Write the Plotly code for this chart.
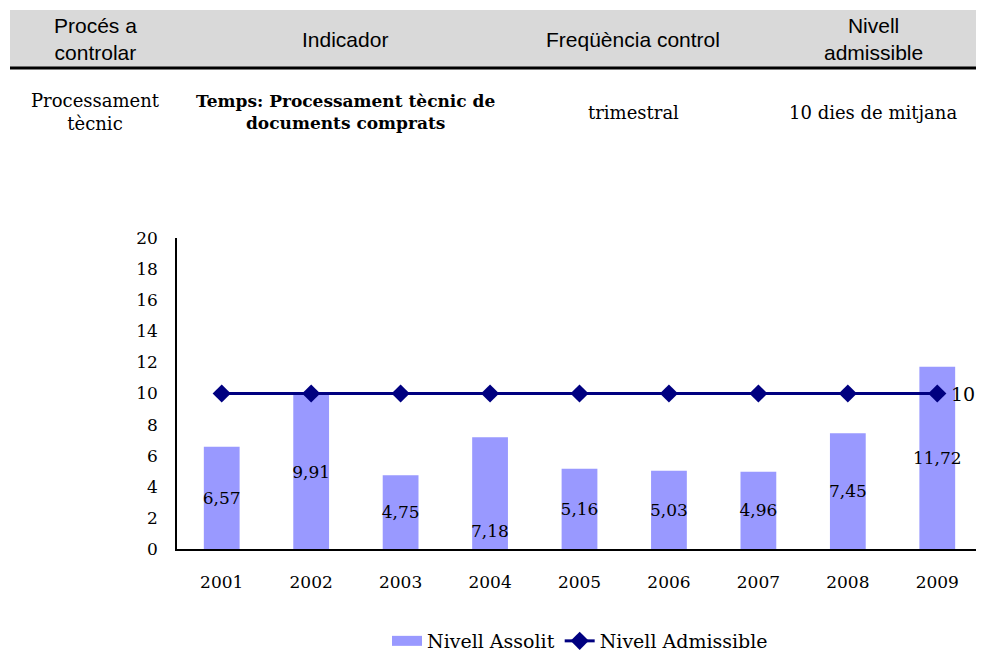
import plotly.graph_objects as go

years = ["2001", "2002", "2003", "2004", "2005", "2006", "2007", "2008", "2009"]
assolit = [6.57, 9.91, 4.75, 7.18, 5.16, 5.03, 4.96, 7.45, 11.72]
admissible = [10, 10, 10, 10, 10, 10, 10, 10, 10]
assolit_labels = ["6,57", "9,91", "4,75", "7,18", "5,16", "5,03", "4,96", "7,45", "11,72"]

header = ["Procés a<br>controlar", "Indicador", "Freqüència control", "Nivell<br>admissible"]
row = ["Processament<br>tècnic", "<b>Temps: Processament tècnic de<br>documents comprats</b>",
       "trimestral", "10 dies de mitjana"]

# the page body adds an 8px margin, so the figure is sized to what remains visible
OFF = 8
W, H = 984 - OFF, 653 - OFF
L, T = 177 - OFF, 238 - OFF
R, B = W - (982 - OFF), H - (549 - OFF)
PW, PH = W - L - R, H - T - B


def px(x):
    # screen pixel -> paper x
    return (x - OFF - L) / PW


def py(y):
    # screen pixel -> paper y
    return (H - B - (y - OFF)) / PH


SERIF = "DejaVu Serif, Liberation Serif, serif"
SANS = "Liberation Sans, Arial, sans-serif"
BAR_COLOR = "#9999ff"
LINE_COLOR = "#000080"

fig = go.Figure()
low_idx = years.index("2004")
bar_text = [t if i != low_idx else "" for i, t in enumerate(assolit_labels)]
fig.add_trace(go.Bar(
    x=years, y=assolit, name="Nivell Assolit", showlegend=False,
    marker=dict(color=BAR_COLOR, line=dict(width=0)),
    text=bar_text, textposition="inside", insidetextanchor="middle",
    textangle=0, constraintext="none",
    textfont=dict(family=SERIF, size=17, color="black"),
    cliponaxis=False,
))
# legend entry drawn as a wide block like the original
fig.add_trace(go.Scatter(
    x=[None], y=[None], name="Nivell Assolit", mode="lines",
    line=dict(color=BAR_COLOR, width=16),
))
fig.add_trace(go.Scatter(
    x=years, y=admissible, name="Nivell Admissible", mode="lines+markers",
    line=dict(color=LINE_COLOR, width=3),
    marker=dict(symbol="diamond", size=14, color=LINE_COLOR),
))

# 2004 label sits low inside its bar (category index used for x)
fig.add_annotation(x=low_idx, y=0, yref="y", text=assolit_labels[low_idx], showarrow=False,
                   yanchor="bottom", yshift=6, font=dict(family=SERIF, size=17, color="black"))
# value label to the right of the last marker
fig.add_annotation(x=len(years) - 1, y=admissible[-1], text=str(admissible[-1]), showarrow=False,
                   xanchor="left", xshift=12, font=dict(family=SERIF, size=19, color="black"))

# header table
fig.add_shape(type="rect", xref="paper", yref="paper", x0=px(10), x1=px(984), y0=py(68), y1=py(10),
              fillcolor="#d9d9d9", line=dict(width=0), layer="below")
fig.add_shape(type="line", xref="paper", yref="paper", x0=px(10), x1=px(984), y0=py(68), y1=py(68),
              line=dict(color="black", width=3))
col_x = [95, 345, 633, 873]
for i, (cx, h, r) in enumerate(zip(col_x, header, row)):
    fig.add_annotation(xref="paper", yref="paper", x=px(cx), y=py(39), text=h, showarrow=False,
                       xanchor="center", yanchor="middle",
                       font=dict(family=SANS, size=21, color="black"), align="center")
    fig.add_annotation(xref="paper", yref="paper", x=px(cx), y=py(112), text=r, showarrow=False,
                       xanchor="center", yanchor="middle",
                       font=dict(family=SERIF, size=17 if i == 1 else 18, color="black"),
                       align="center")

fig.update_layout(
    width=W, height=H,
    margin=dict(l=L, r=R, t=T, b=B, autoexpand=False),
    plot_bgcolor="white", paper_bgcolor="white",
    bargap=0.6,
    showlegend=True,
    legend=dict(orientation="h", x=px(580), xanchor="center", y=py(641), yanchor="middle",
                font=dict(family=SERIF, size=19, color="black"),
                traceorder="normal"),
    xaxis=dict(type="category", range=[-0.5, len(years) - 0.5], autorange=False,
               showline=True, linecolor="black", linewidth=1.5, showgrid=False,
               ticks="", tickfont=dict(family=SERIF, size=17, color="black"), ticklabelstandoff=17),
    yaxis=dict(range=[0, 20], dtick=2, showline=True, linecolor="black", linewidth=1.5,
               showgrid=False, zeroline=False, ticks="",
               tickfont=dict(family=SERIF, size=17, color="black"), ticklabelstandoff=14),
)

fig.write_html("out.html")
